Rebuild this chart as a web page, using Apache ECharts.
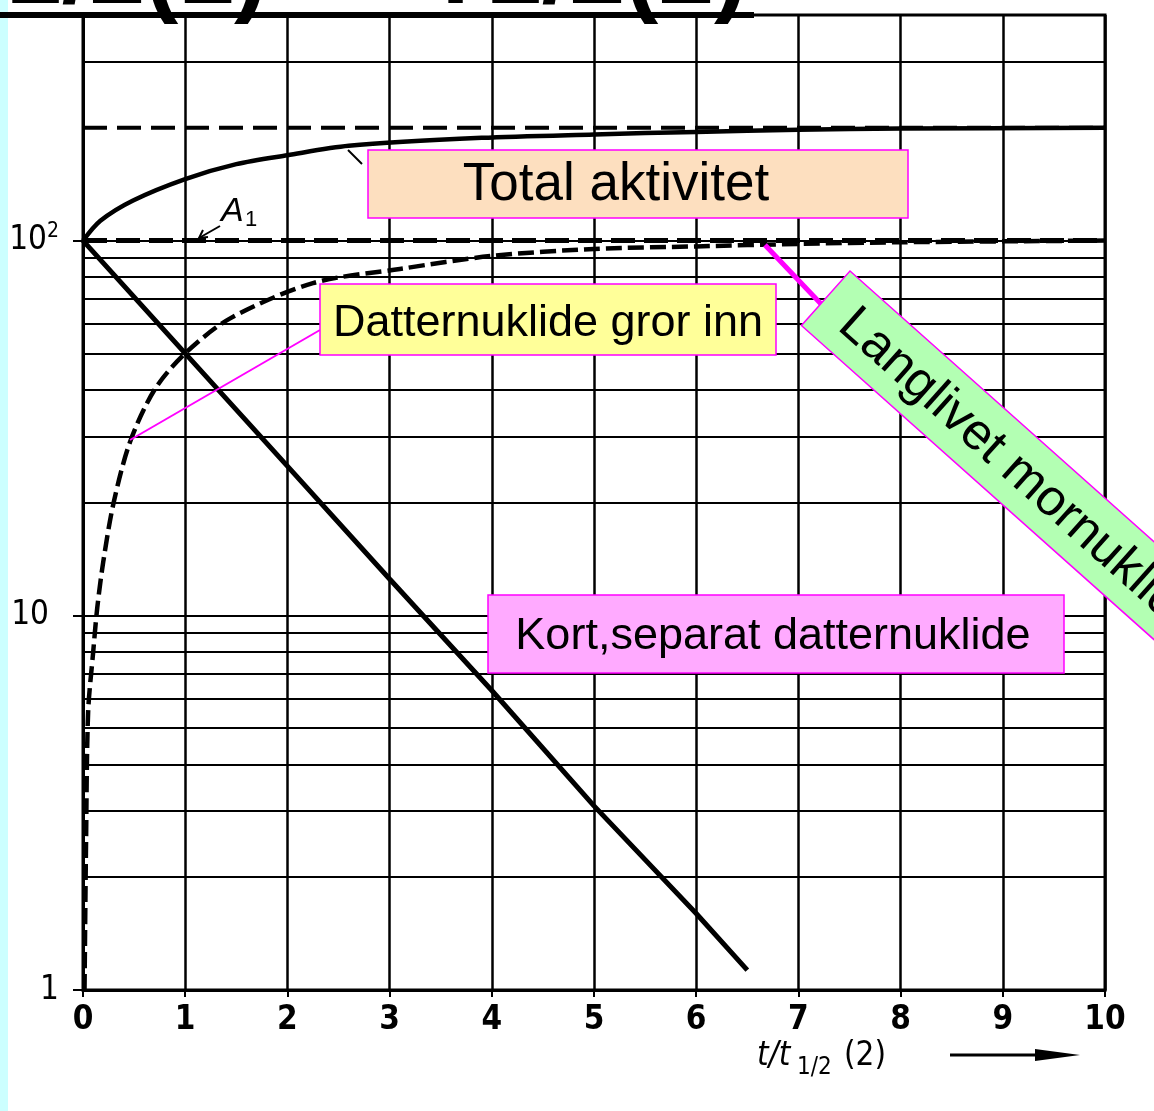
<!DOCTYPE html>
<html>
<head>
<meta charset="utf-8">
<script src="https://cdn.jsdelivr.net/npm/echarts@6/dist/echarts.min.js"></script>
<style>
html,body{margin:0;padding:0;background:#fff;}
#chart{width:1154px;height:1111px;}
</style>
</head>
<body>
<div id="chart"></div>
<script>
// ---- data ----
const xTickValues = [0,1,2,3,4,5,6,7,8,9,10];
const yLabelValues = [1, 10, 100];
const yGridValues = [2,3,4,5,6,7,8,9,10,20,30,40,50,60,70,80,90,100,300];

// long-lived parent (A1) level and 2*A1 asymptote
const parentT = [0, 10];
const parentA = [100, 100];
const asymT = [0, 10];
const asymA = [200, 200];

// total activity
const totalT = [0, 0.17, 0.49, 1, 1.5, 2, 2.6, 3.9, 5, 6, 7, 8, 10];
const totalA = [100, 113, 128, 146, 160, 169, 179, 188, 192, 195, 197.5, 199, 200];

// daughter grows in
const growT = [0.015, 0.03, 0.05, 0.1, 0.14, 0.2, 0.3, 0.46, 0.7, 1, 1.44, 2.25, 3.1, 4, 5, 6, 7, 8, 10];
const growA = [1, 2.5, 5.5, 8, 10.5, 14, 20, 29, 40, 50, 62, 77, 84, 91, 95, 96.5, 98, 99, 100];

// short, separated daughter decays
const decayT = [0, 1, 2, 3, 4, 5, 6, 6.5];
const decayA = [100, 50, 25, 12.5, 6.3, 3.1, 1.6, 1.13];

function pairs(xs, ys){ return xs.map((x,i)=>[x, ys[i]]); }

const chart = echarts.init(document.getElementById('chart'), null, {renderer:'canvas'});
const narrow = "'Liberation Sans Narrow','DejaVu Sans Condensed','Liberation Sans',sans-serif";
const sans = "'Liberation Sans', Arial, sans-serif";

const option = {
  backgroundColor: '#ffffff',
  animation: false,
  grid: {left:83, right:49, top:15, bottom:121, show:true, borderColor:'#000', borderWidth:3},
  xAxis: {
    type:'value', min:0, max:10, interval:1,
    axisLine:{show:true, onZero:false, lineStyle:{color:'#000', width:3}},
    axisTick:{show:true, length:7, lineStyle:{color:'#000', width:2}},
    axisLabel:{color:'#000', fontFamily:narrow, fontWeight:'bold', fontSize:33, margin:14,
      formatter: v => xTickValues.includes(v) ? String(v) : ''},
    splitLine:{show:true, lineStyle:{color:'#000', width:2.5}}
  },
  yAxis: {
    type:'log', logBase:10, min:1, max:400,
    axisLine:{show:true, lineStyle:{color:'#000', width:3}},
    axisTick:{show:true, length:10, lineStyle:{color:'#000', width:2}},
    splitLine:{show:false},
    axisLabel:{color:'#000', fontFamily:narrow, fontSize:33, margin:24, showMaxLabel:false,
      formatter: v => {
        if (Math.abs(v-100)<1e-6) return '{n|10}{s|2}';
        if (Math.abs(v-10)<1e-6) return '{p|10}';
        if (Math.abs(v-1)<1e-6) return '1';
        return '';
      },
      rich:{
        n:{fontFamily:narrow, fontSize:33, color:'#000'},
        s:{fontFamily:narrow, fontSize:21, color:'#000', verticalAlign:'top', padding:[0,0,18,0]},
        p:{fontFamily:narrow, fontSize:33, color:'#000', padding:[0,10,0,0]}
      }
    }
  },
  series: [
    {
      name:'grid', type:'line', data:[], silent:true, z:1,
      markLine:{silent:true, symbol:['none','none'], label:{show:false},
        lineStyle:{color:'#000', width:2.2, type:'solid'},
        data: yGridValues.map(v=>({yAxis:v}))}
    },
    {name:'A1', type:'line', data:pairs(parentT,parentA), showSymbol:false, z:3,
      lineStyle:{color:'#000', width:5, type:[24,9]}},
    {name:'2A1', type:'line', data:pairs(asymT,asymA), showSymbol:false, z:3,
      lineStyle:{color:'#000', width:4, type:[24,10]}},
    {name:'Total aktivitet', type:'line', data:pairs(totalT,totalA), showSymbol:false, smooth:0.3, z:4,
      lineStyle:{color:'#000', width:4.5}},
    {name:'Datternuklide gror inn', type:'line', data:pairs(growT,growA), showSymbol:false, smooth:0.3, z:4,
      lineStyle:{color:'#000', width:4.5, type:[16,6]}},
    {name:'Kort, separat datternuklide', type:'line', data:pairs(decayT,decayA), showSymbol:false, z:4,
      lineStyle:{color:'#000', width:5}}
  ],
  graphic: [
    {type:'rect', z:100, shape:{x:0,y:0,width:8,height:1111}, style:{fill:'#CCFFFF'}},
    // cut-off title at the top
    {type:'text', z:100, x:-55, y:-25, style:{text:'T1/2(1)', font:'bold 100px '+sans, fill:'#000', verticalAlign:'middle'}},
    {type:'text', z:100, x:425, y:-25, style:{text:'T1/2(2)', font:'bold 100px '+sans, fill:'#000', verticalAlign:'middle'}},
    {type:'rect', z:101, shape:{x:0,y:12,width:754,height:6}, style:{fill:'#000'}},
    // A1 label
    {type:'text', z:100, x:221, y:212, style:{text:'A', font:'italic 34px '+sans, fill:'#000', verticalAlign:'middle'}},
    {type:'text', z:100, x:245, y:220, style:{text:'1', font:'22px '+sans, fill:'#000', verticalAlign:'middle'}},
    {type:'line', z:100, shape:{x1:220,y1:226,x2:199,y2:238}, style:{stroke:'#000', lineWidth:2}},
    {type:'polyline', z:100, shape:{points:[[203,230],[199,238],[208,237]]}, style:{stroke:'#000', lineWidth:2, fill:null}},
    {type:'line', z:100, shape:{x1:348,y1:150,x2:362,y2:164}, style:{stroke:'#000', lineWidth:2}},
    // Total aktivitet box
    {type:'rect', z:100, shape:{x:368,y:150,width:540,height:68}, style:{fill:'#FDDFBF', stroke:'#FF00FF', lineWidth:1.5}},
    {type:'text', z:101, x:616, y:185, style:{text:'Total aktivitet', font:'53px '+sans, fill:'#000', align:'center', verticalAlign:'middle'}},
    // Datternuklide box
    {type:'line', z:100, shape:{x1:320,y1:330,x2:130,y2:440}, style:{stroke:'#FF00FF', lineWidth:2}},
    {type:'rect', z:100, shape:{x:320,y:284,width:456,height:71}, style:{fill:'#FFFF99', stroke:'#FF00FF', lineWidth:1.5}},
    {type:'text', z:101, x:548, y:324, style:{text:'Datternuklide gror inn', font:'45px '+sans, fill:'#000', align:'center', verticalAlign:'middle'}},
    // Kort box
    {type:'rect', z:100, shape:{x:488,y:595,width:576,height:78}, style:{fill:'#FFAAFF', stroke:'#FF00FF', lineWidth:1.5}},
    {type:'text', z:101, x:773, y:637, style:{text:'Kort,separat datternuklide', font:'45px '+sans, fill:'#000', align:'center', verticalAlign:'middle'}},
    // Langlivet box (rotated)
    {type:'line', z:100, shape:{x1:765,y1:245,x2:822,y2:305}, style:{stroke:'#FF00FF', lineWidth:5}},
    {type:'group', z:100, x:850, y:271, rotation:-41.7*Math.PI/180, children:[
      {type:'rect', z:100, shape:{x:0,y:0,width:520,height:73}, style:{fill:'#B3FFB3', stroke:'#FF00FF', lineWidth:1.5}},
      {type:'text', z:101, x:28, y:38, style:{text:'Langlivet mornuklide', font:'51px '+sans, fill:'#000', verticalAlign:'middle'}}
    ]},
    // x axis name and arrow
    {type:'text', z:100, x:757, y:1056, style:{text:'t/t', font:'italic 33px '+narrow, fill:'#000', verticalAlign:'middle'}},
    {type:'text', z:100, x:797, y:1068, style:{text:'1/2', font:'24px '+narrow, fill:'#000', verticalAlign:'middle'}},
    {type:'text', z:100, x:844, y:1056, style:{text:'(2)', font:'33px '+narrow, fill:'#000', verticalAlign:'middle'}},
    {type:'line', z:100, shape:{x1:950,y1:1055,x2:1060,y2:1055}, style:{stroke:'#000', lineWidth:3}},
    {type:'polygon', z:100, shape:{points:[[1035,1049],[1080,1055],[1035,1061]]}, style:{fill:'#000'}}
  ]
};
chart.setOption(option);
</script>
</body>
</html>
